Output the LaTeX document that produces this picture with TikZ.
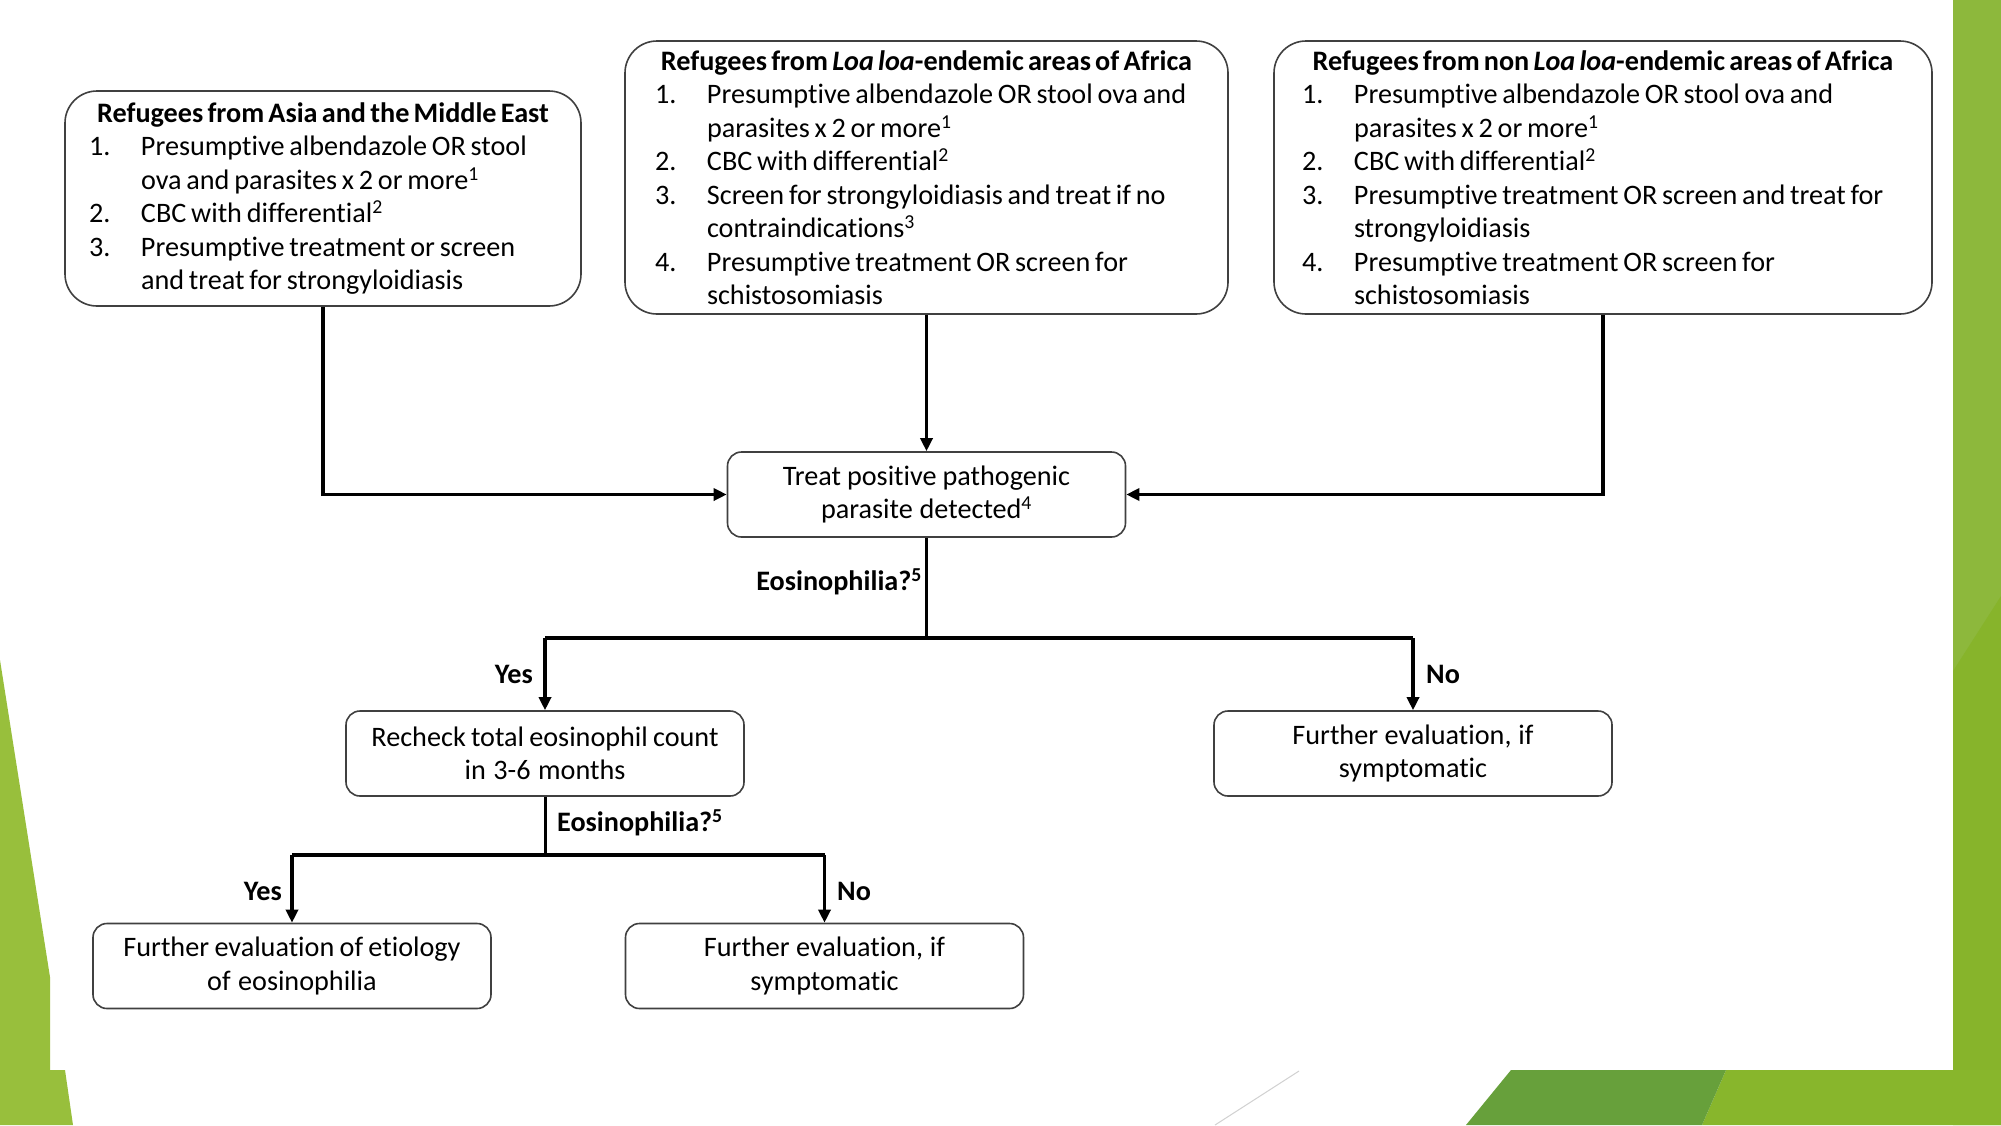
\documentclass[tikz,border=0pt]{standalone}
\usepackage{fontspec}
\setmainfont{Carlito}[Ligatures=NoCommon]
\usetikzlibrary{arrows.meta}
\definecolor{gRight}{HTML}{8DB83C}
\definecolor{gRightLow}{HTML}{87B42B}
\definecolor{gLeft}{HTML}{98BF3C}
\definecolor{gDark}{HTML}{67A03B}
\definecolor{gLight}{HTML}{88B62C}
\definecolor{boxline}{HTML}{404040}
\newcommand\tightsp{\spaceskip=0.17em plus 0.05em\relax}
\newcommand\numitem[2]{\mbox{\makebox[52pt][l]{#1}#2}}
\newcommand\contline[1]{\mbox{\hspace*{52pt}#1}}
\newcommand\hdr[1]{\makebox[\linewidth][c]{\bfseries\spaceskip=0.15em\relax #1}}
\begin{document}
\begin{tikzpicture}[x=1pt,y=-1pt,
  every node/.style={font=\fontsize{28.2}{33.5}\selectfont, execute at begin node=\tightsp},
  bigbox/.style={draw=boxline, line width=1.6pt, rounded corners=32pt, align=left, inner ysep=0pt},
  smallbox/.style={draw=boxline, line width=1.6pt, rounded corners=14pt, align=center,
     minimum width=398pt, minimum height=85pt, text width=380pt, inner sep=0pt},
  lbl/.style={font=\fontsize{28.2}{33.5}\selectfont\bfseries, inner sep=0pt},
  conn/.style={line width=3.4pt, -{Triangle[length=13pt,width=12pt]}},
  stem/.style={line width=3pt},
  bar/.style={line width=4.2pt}
]
\useasboundingbox (0,0) rectangle (2001,1125);
% background
\fill[white] (0,0) rectangle (2001,1125);
\fill[gRight] (1953,0) rectangle (2001,1125);
\fill[gRightLow] (1953,671) -- (2001,596) -- (2001,1125) -- (1953,1125) -- cycle;
\fill[gLight] (1726,1070) -- (2001,1070) -- (2001,1125) -- (1702,1125) -- cycle;
\fill[gDark] (1511,1070) -- (1726,1070) -- (1702,1125) -- (1466,1125) -- cycle;
\fill[gLeft] (0,660) -- (50,977) -- (50,1070) -- (65,1070) -- (73,1125) -- (0,1125) -- cycle;
\draw[black!18, line width=1pt] (1299,1071) -- (1215,1125);

% top boxes
\node[bigbox, minimum width=516pt, minimum height=215pt, text width=468pt, inner xsep=24pt] (A) at (323,198.5) {%
\hdr{Refugees from Asia and the Middle East}\\
\numitem{1.}{Presumptive albendazole OR stool}\\
\contline{ova and parasites x 2 or more\textsuperscript{1}}\\
\numitem{2.}{CBC with differential\textsuperscript{2}}\\
\numitem{3.}{Presumptive treatment or screen}\\
\contline{and treat for strongyloidiasis}};

\node[bigbox, minimum width=603pt, minimum height=273pt, text width=543pt, inner xsep=30pt] (B) at (926.5,177.5) {%
\hdr{Refugees from \textit{Loa loa}-endemic areas of Africa}\\
\numitem{1.}{Presumptive albendazole OR stool ova and}\\
\contline{parasites x 2 or more\textsuperscript{1}}\\
\numitem{2.}{CBC with differential\textsuperscript{2}}\\
\numitem{3.}{Screen for strongyloidiasis and treat if no}\\
\contline{contraindications\textsuperscript{3}}\\
\numitem{4.}{Presumptive treatment OR screen for}\\
\contline{schistosomiasis}};

\node[bigbox, minimum width=658pt, minimum height=273pt, text width=602pt, inner xsep=28pt] (C) at (1603,177.5) {%
\hdr{Refugees from non \textit{Loa loa}-endemic areas of Africa}\\
\numitem{1.}{Presumptive albendazole OR stool ova and}\\
\contline{parasites x 2 or more\textsuperscript{1}}\\
\numitem{2.}{CBC with differential\textsuperscript{2}}\\
\numitem{3.}{Presumptive treatment OR screen and treat for}\\
\contline{strongyloidiasis}\\
\numitem{4.}{Presumptive treatment OR screen for}\\
\contline{schistosomiasis}};

% middle and lower boxes
\node[smallbox] (T) at (926.5,494.5) {Treat positive pathogenic\\parasite detected\textsuperscript{4}};
\node[smallbox] (R) at (545,753.5) {Recheck total eosinophil count\\in 3-6 months};
\node[smallbox] (E1) at (1413,753.5) {Further evaluation, if\\symptomatic};
\node[smallbox] (F) at (292,966) {Further evaluation of etiology\\of eosinophilia};
\node[smallbox] (E2) at (824.5,966) {Further evaluation, if\\symptomatic};

% junctions
\coordinate (j1) at (926.5,638);
\coordinate (j2) at (545,855);

% connectors
\draw[conn] (A.south) |- (T.west);
\draw[conn] (B.south) -- (T.north);
\draw[conn] (C.south) |- (T.east);
\draw[stem] (T.south) -- (j1);
\draw[bar] (j1) -- (j1 -| R.north);
\draw[bar] (j1) -- (j1 -| E1.north);
\draw[conn] (j1 -| R.north) -- (R.north);
\draw[conn] (j1 -| E1.north) -- (E1.north);
\draw[stem] (R.south) -- (j2);
\draw[bar] (j2) -- (j2 -| F.north);
\draw[bar] (j2) -- (j2 -| E2.north);
\draw[conn] (j2 -| F.north) -- (F.north);
\draw[conn] (j2 -| E2.north) -- (E2.north);

% labels
\node[lbl, anchor=east] (q1) at (922,582) {Eosinophilia?\textsuperscript{5}};
\node[lbl, anchor=east] (y1) at (533,674) {Yes};
\node[lbl, anchor=west] (n1) at (1426,674) {No};
\node[lbl, anchor=west] (q2) at (557,823) {Eosinophilia?\textsuperscript{5}};
\node[lbl, anchor=east] (y2) at (282,891) {Yes};
\node[lbl, anchor=west] (n2) at (837,891) {No};
\end{tikzpicture}
\end{document}
